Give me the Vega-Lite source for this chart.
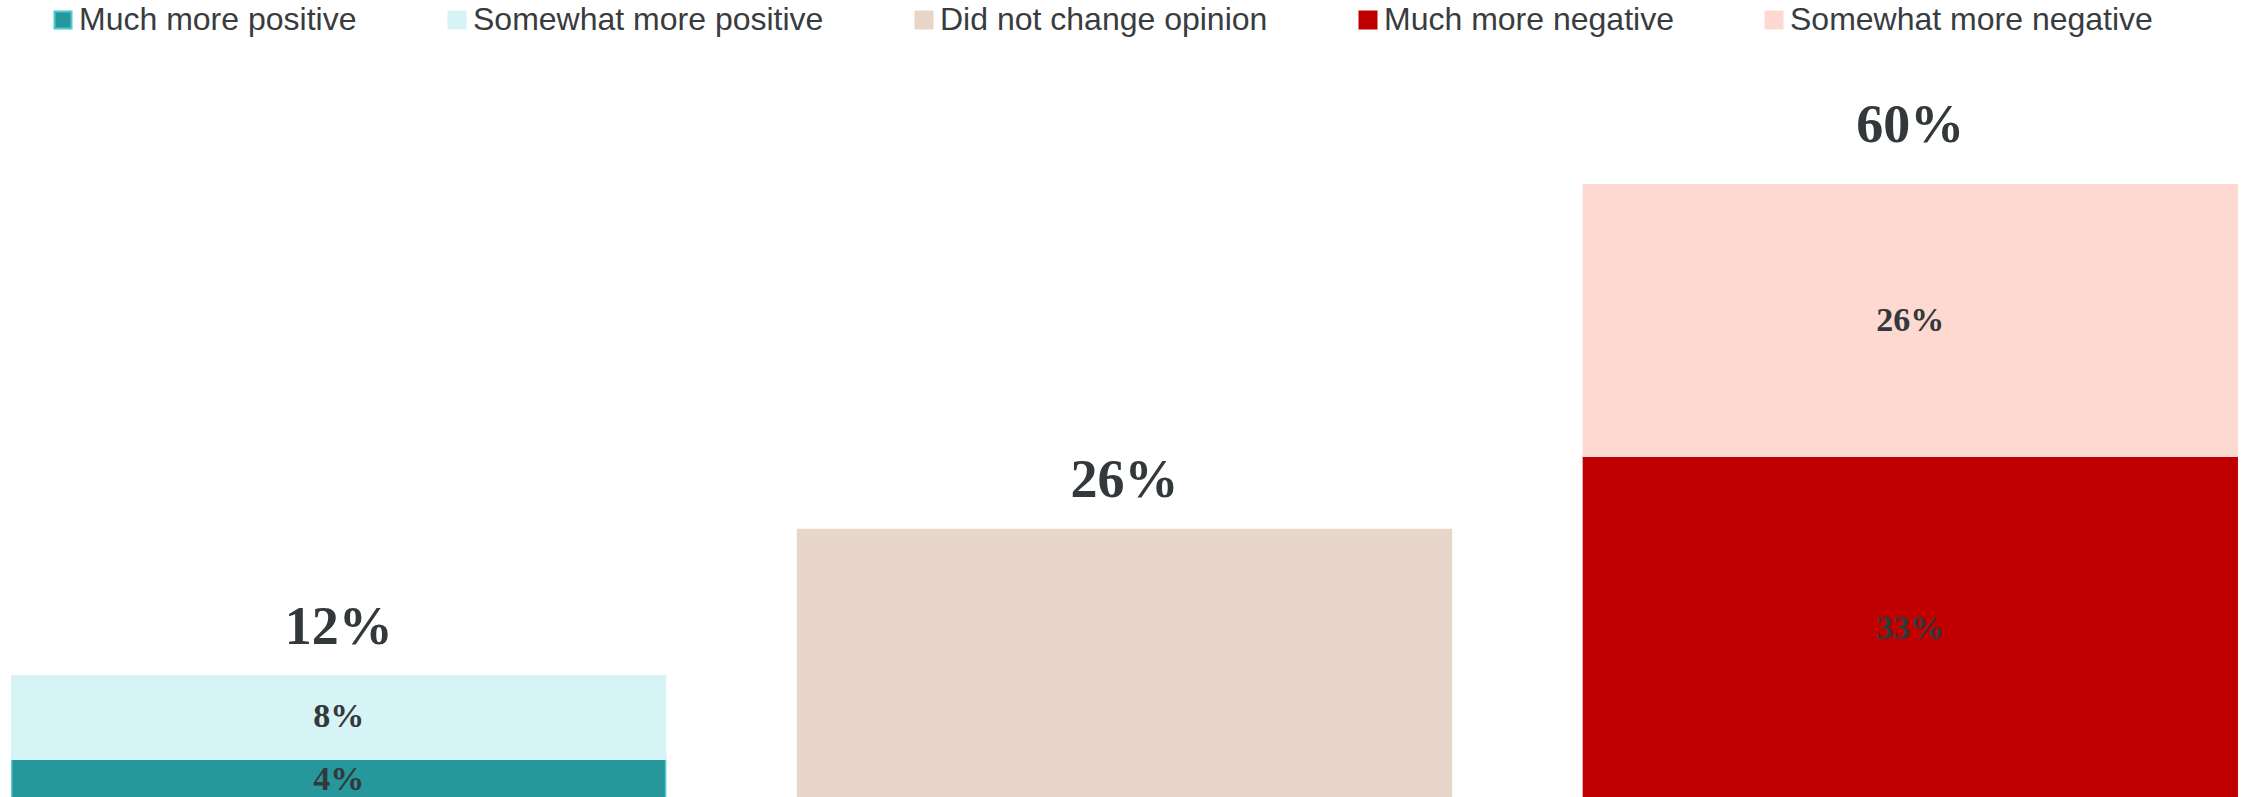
{
  "$schema": "https://vega.github.io/schema/vega-lite/v6.json",
  "width": 2249,
  "height": 801,
  "autosize": "none",
  "padding": 0,
  "background": "white",
  "config": {
    "view": {"stroke": null},
    "legend": {
      "orient": "none",
      "legendX": 47,
      "legendY": 4,
      "direction": "horizontal",
      "padding": 0,
      "symbolType": "square",
      "symbolSize": 289,
      "symbolStrokeWidth": 2,
      "labelFont": "Liberation Sans",
      "labelFontSize": 32,
      "labelColor": "#383c3f",
      "labelOffset": 0,
      "labelLimit": 600,
      "columnPadding": 84,
      "title": null
    }
  },
  "datasets": {
    "segments": [
      {"group": "Positive", "category": "Much more positive", "value": 4, "label": "4%"},
      {"group": "Positive", "category": "Somewhat more positive", "value": 8, "label": "8%"},
      {"group": "Neutral", "category": "Did not change opinion", "value": 26, "label": "26%"},
      {"group": "Negative", "category": "Much more negative", "value": 33, "label": "33%"},
      {"group": "Negative", "category": "Somewhat more negative", "value": 26, "label": "26%"}
    ],
    "totals": [
      {"group": "Positive", "total": 12, "label": "12%"},
      {"group": "Neutral", "total": 26, "label": "26%"},
      {"group": "Negative", "total": 60, "label": "60%"}
    ]
  },
  "encoding": {
    "x": {
      "field": "group",
      "type": "nominal",
      "sort": ["Positive", "Neutral", "Negative"],
      "axis": null,
      "scale": {"paddingInner": 0.168, "paddingOuter": 0.015}
    }
  },
  "layer": [
    {
      "data": {"name": "segments"},
      "mark": {"type": "bar", "strokeWidth": 1.5},
      "encoding": {
        "y": {"field": "value", "type": "quantitative", "stack": "zero", "axis": null, "scale": {"domain": [0, 76.7], "nice": false}},
        "order": {"field": "category", "sort": "ascending"},
        "color": {
          "field": "category",
          "type": "nominal",
          "title": null,
          "scale": {
            "domain": ["Much more positive", "Somewhat more positive", "Did not change opinion", "Much more negative", "Somewhat more negative"],
            "range": ["#26989c", "#d6f3f5", "#e7d6c9", "#c00000", "#fdd9d2"]
          }
        },
        "stroke": {
          "field": "category",
          "type": "nominal",
          "title": null,
          "scale": {
            "domain": ["Much more positive", "Somewhat more positive", "Did not change opinion", "Much more negative", "Somewhat more negative"],
            "range": ["#4dc9cf", "#d6f3f5", "#e7d6c9", "#c00000", "#fdd9d2"]
          }
        }
      }
    },
    {
      "data": {"name": "segments"},
      "transform": [{"filter": "datum.category !== 'Did not change opinion'"}],
      "mark": {"type": "text", "font": "Liberation Serif", "fontWeight": "bold", "fontSize": 34, "color": "#33383b", "baseline": "middle"},
      "encoding": {
        "y": {"field": "value", "type": "quantitative", "stack": "zero", "bandPosition": 0.5},
        "order": {"field": "category", "sort": "ascending"},
        "detail": {"field": "category"},
        "text": {"field": "label"}
      }
    },
    {
      "data": {"name": "totals"},
      "mark": {"type": "text", "font": "Liberation Serif", "fontWeight": "bold", "fontSize": 54, "color": "#33383b", "baseline": "middle", "dy": -48},
      "encoding": {
        "y": {"field": "total", "type": "quantitative"},
        "text": {"field": "label"}
      }
    }
  ]
}
